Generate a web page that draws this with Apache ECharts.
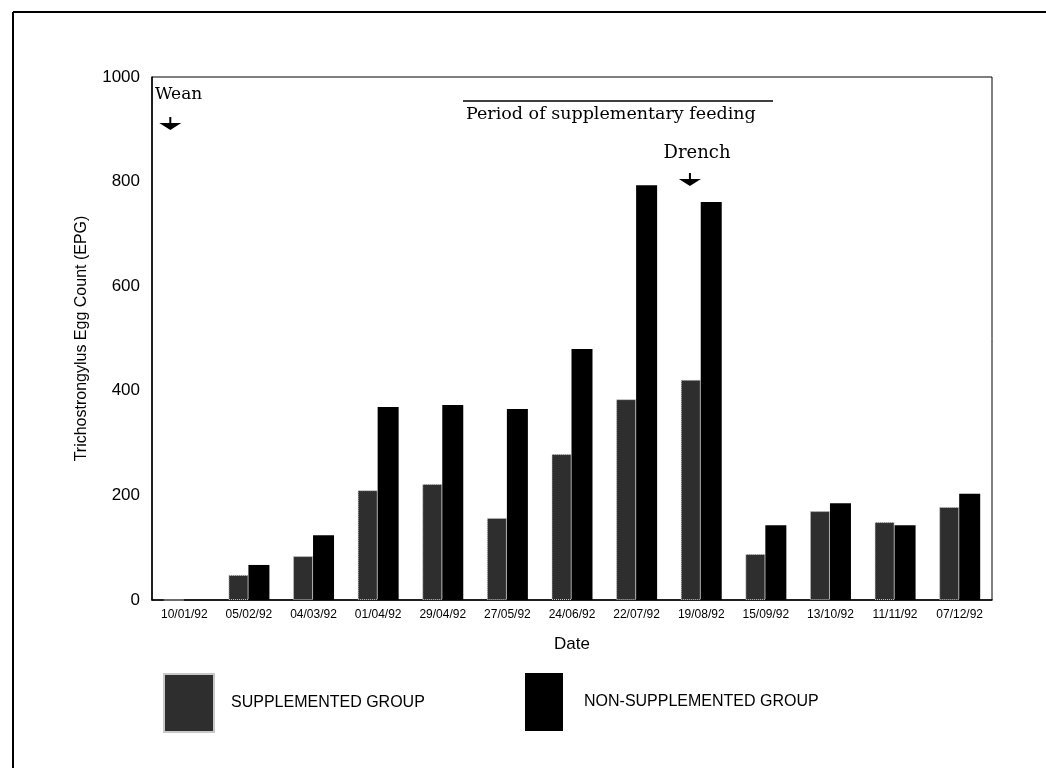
<!DOCTYPE html>
<html>
<head>
<meta charset="utf-8">
<script src="https://cdn.jsdelivr.net/npm/echarts@6/dist/echarts.min.js"></script>
<style>
html,body{margin:0;padding:0;background:#fff;}
#chart{width:1046px;height:768px;}
</style>
</head>
<body>
<div id="chart"></div>
<script>
const categories = ['10/01/92','05/02/92','04/03/92','01/04/92','29/04/92','27/05/92','24/06/92','22/07/92','19/08/92','15/09/92','13/10/92','11/11/92','07/12/92'];
const supplemented = [0, 48, 84, 210, 222, 157, 279, 384, 421, 88, 170, 149, 178];
const nonSupplemented = [0, 67, 124, 369, 373, 365, 480, 793, 761, 143, 185, 143, 203];
const yTicks = [0, 200, 400, 600, 800, 1000];
const seriesNames = ['SUPPLEMENTED GROUP', 'NON-SUPPLEMENTED GROUP'];

const chart = echarts.init(document.getElementById('chart'));
const sans = 'Liberation Sans, Arial, sans-serif';
const serif = 'DejaVu Serif, serif';

const option = {
  animation: false,
  backgroundColor: '#fff',
  grid: { left: 152, right: 54, top: 77, bottom: 168, show: true, borderColor: '#000', borderWidth: 1 },
  xAxis: {
    type: 'category',
    data: categories,
    axisLine: { lineStyle: { color: '#000', width: 1.5 } },
    axisTick: { show: false },
    axisLabel: { interval: 0, color: '#000', fontSize: 12, fontFamily: sans, margin: 9 },
    name: 'Date', nameLocation: 'middle', nameGap: 36,
    nameTextStyle: { color: '#000', fontSize: 17, fontFamily: sans }
  },
  yAxis: {
    type: 'value', min: yTicks[0], max: yTicks[yTicks.length - 1], interval: yTicks[1] - yTicks[0],
    axisLine: { show: true, lineStyle: { color: '#000', width: 1.5 } },
    axisTick: { show: false },
    splitLine: { show: false },
    axisLabel: { color: '#000', fontSize: 17, fontFamily: sans, margin: 12, formatter: v => String(v) },
    name: 'Trichostrongylus Egg Count (EPG)', nameLocation: 'middle', nameGap: 62,
    nameTextStyle: { color: '#000', fontSize: 16, fontFamily: sans }
  },
  legend: [
    { data: [{ name: seriesNames[0], icon: 'rect' }], left: 158, top: 668, itemWidth: 50, itemHeight: 58,
      textStyle: { color: '#000', fontSize: 16, fontFamily: sans, padding: [0, 0, 0, 12] }, selectedMode: false },
    { data: [{ name: seriesNames[1], icon: 'rect' }], left: 520, top: 668, itemWidth: 38, itemHeight: 58,
      textStyle: { color: '#000', fontSize: 16, fontFamily: sans, padding: [0, 0, 0, 16] }, selectedMode: false }
  ],
  series: [
    { name: seriesNames[0], type: 'bar', data: supplemented, barWidth: 20, barGap: '0%',
      itemStyle: { color: '#2e2e2e', borderColor: '#c8c8c8', borderWidth: 1, borderType: 'dotted' } },
    { name: seriesNames[1], type: 'bar', data: nonSupplemented, barWidth: 21,
      itemStyle: { color: '#000' } }
  ]
};
chart.setOption(option);

function arrow(x, y) {
  return [
    { type: 'line', shape: { x1: x, y1: y, x2: x, y2: y + 8 }, style: { stroke: '#000', lineWidth: 2 } },
    { type: 'polygon', shape: { points: [[x - 11, y + 6], [x + 11, y + 6], [x, y + 13]] }, style: { fill: '#000' } }
  ];
}

const weanX = chart.convertToPixel({ xAxisIndex: 0 }, categories[0]) - 14;
const drenchX = (chart.convertToPixel({ xAxisIndex: 0 }, categories[7]) + chart.convertToPixel({ xAxisIndex: 0 }, categories[8])) / 2 + 21;

chart.setOption({
  graphic: [
    { type: 'line', shape: { x1: 13, y1: 12, x2: 1046, y2: 12 }, style: { stroke: '#000', lineWidth: 2 } },
    { type: 'line', shape: { x1: 13, y1: 12, x2: 13, y2: 768 }, style: { stroke: '#000', lineWidth: 2 } },
    { type: 'text', left: 155, top: 86, style: { text: 'Wean', font: '17px ' + serif, fill: '#000' } },
    ...arrow(weanX, 117),
    { type: 'line', shape: { x1: 463, y1: 101, x2: 773, y2: 101 }, style: { stroke: '#000', lineWidth: 1.5 } },
    { type: 'text', left: 466, top: 105, style: { text: 'Period of supplementary feeding', font: '17.5px ' + serif, fill: '#000' } },
    { type: 'text', x: 697, y: 153, style: { text: 'Drench', font: '18px ' + serif, fill: '#000', textAlign: 'center', textVerticalAlign: 'middle' } },
    ...arrow(drenchX, 173)
  ]
});
</script>
</body>
</html>
